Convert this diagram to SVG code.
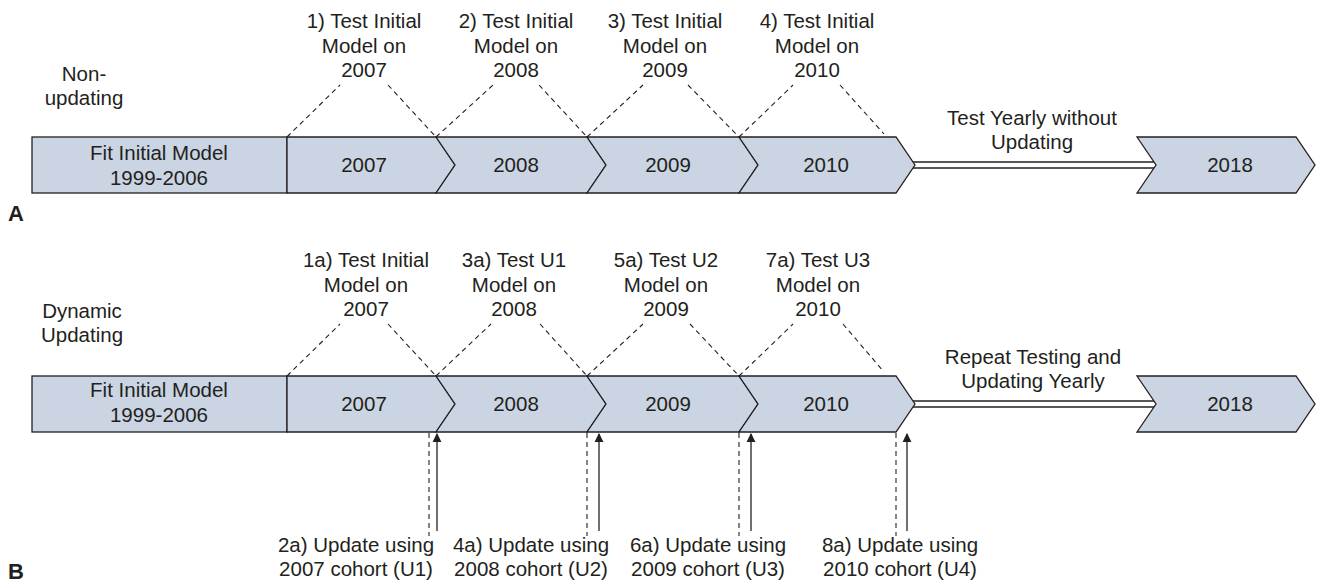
<svg xmlns="http://www.w3.org/2000/svg" width="1317" height="584" viewBox="0 0 1317 584">
<defs>
<style>
text{font-family:"Liberation Sans",Arial,sans-serif;font-size:20.5px;fill:#231f20}
.c{text-anchor:middle}
.lbl{font-weight:bold;font-size:22px}
.box{fill:#cad4e2;stroke:#231f20;stroke-width:1.3;stroke-linejoin:miter}
.dash{fill:none;stroke:#231f20;stroke-width:1.1;stroke-dasharray:5 4}
.arr{fill:none;stroke:#231f20;stroke-width:1.3}
.dblo{stroke:#231f20;stroke-width:7.5;fill:none}
.dbli{stroke:#ffffff;stroke-width:4.5;fill:none}
</style>
<marker id="ah" viewBox="0 0 10 10" refX="9" refY="5" markerWidth="9" markerHeight="11" markerUnits="userSpaceOnUse" orient="auto">
<path d="M0,0 L10,5 L0,10 Z" fill="#231f20"/>
</marker>
</defs>
<rect width="1317" height="584" fill="#ffffff"/>

<!-- Panel A -->
<g id="panelA">
<text x="84" y="81" class="c">Non-</text>
<text x="84" y="105" class="c">updating</text>
<text x="8" y="221" class="lbl">A</text>

<g id="a-labels">
<text x="364" y="28" class="c">1) Test Initial</text>
<text x="364" y="53" class="c">Model on</text>
<text x="364" y="77" class="c">2007</text>
<text x="516" y="28" class="c">2) Test Initial</text>
<text x="516" y="53" class="c">Model on</text>
<text x="516" y="77" class="c">2008</text>
<text x="665" y="28" class="c">3) Test Initial</text>
<text x="665" y="53" class="c">Model on</text>
<text x="665" y="77" class="c">2009</text>
<text x="817" y="28" class="c">4) Test Initial</text>
<text x="817" y="53" class="c">Model on</text>
<text x="817" y="77" class="c">2010</text>
<text x="1032" y="125" class="c">Test Yearly without</text>
<text x="1032" y="149" class="c">Updating</text>
</g>

<g id="a-connectors">
<path class="dash" d="M287,137 L340,85 M388,85 L436,137 M436,137 L493,85 M539,85 L587,137 M587,137 L643,85 M688,85 L739,137 M739,137 L793,85 M840,85 L884,134"/>
<path class="dblo" d="M913,165 L1158,165"/>
<path class="dbli" d="M911,165 L1160,165"/>
</g>

<g id="a-fit"><rect class="box" x="32" y="137" width="255" height="56"/>
<text x="159" y="160" class="c">Fit Initial Model</text><text x="159" y="185" class="c">1999-2006</text></g>
<g id="a-2007"><polygon class="box" points="287,137 436,137 455,165 436,193 287,193"/><text x="364" y="172" class="c">2007</text></g>
<g id="a-2008"><polygon class="box" points="436,137 587,137 606,165 587,193 436,193 455,165"/><text x="516" y="172" class="c">2008</text></g>
<g id="a-2009"><polygon class="box" points="587,137 739,137 758,165 739,193 587,193 606,165"/><text x="668" y="172" class="c">2009</text></g>
<g id="a-2010"><polygon class="box" points="739,137 896,137 915,165 896,193 739,193 758,165"/><text x="826" y="172" class="c">2010</text></g>
<g id="a-2018"><polygon class="box" points="1137,137 1296,137 1315,165 1296,193 1137,193 1156,165"/><text x="1230" y="172" class="c">2018</text></g>
</g>

<!-- Panel B -->
<g id="panelB">
<text x="82" y="318" class="c">Dynamic</text>
<text x="82" y="342" class="c">Updating</text>
<text x="8" y="579" class="lbl">B</text>

<g id="b-labels">
<text x="366" y="267" class="c">1a) Test Initial</text>
<text x="366" y="292" class="c">Model on</text>
<text x="366" y="316" class="c">2007</text>
<text x="514" y="267" class="c">3a) Test U1</text>
<text x="514" y="292" class="c">Model on</text>
<text x="514" y="316" class="c">2008</text>
<text x="666" y="267" class="c">5a) Test U2</text>
<text x="666" y="292" class="c">Model on</text>
<text x="666" y="316" class="c">2009</text>
<text x="818" y="267" class="c">7a) Test U3</text>
<text x="818" y="292" class="c">Model on</text>
<text x="818" y="316" class="c">2010</text>
<text x="1033" y="364" class="c">Repeat Testing and</text>
<text x="1033" y="388" class="c">Updating Yearly</text>
<text x="356" y="552" class="c">2a) Update using</text>
<text x="356" y="576" class="c">2007 cohort (U1)</text>
<text x="531" y="552" class="c">4a) Update using</text>
<text x="531" y="576" class="c">2008 cohort (U2)</text>
<text x="708" y="552" class="c">6a) Update using</text>
<text x="708" y="576" class="c">2009 cohort (U3)</text>
<text x="900" y="552" class="c">8a) Update using</text>
<text x="900" y="576" class="c">2010 cohort (U4)</text>
</g>

<g id="b-connectors">
<path class="dash" d="M287,376 L340,324 M388,324 L436,376 M436,376 L491,324 M540,324 L587,376 M587,376 L643,324 M690,324 L739,376 M739,376 L793,324 M843,324 L884,372"/>
<path class="dash" d="M429,433 L429,536 M587,433 L587,536 M739,433 L739,536 M896,433 L896,536"/>
<path class="arr" marker-end="url(#ah)" d="M437,531 L437,434"/>
<path class="arr" marker-end="url(#ah)" d="M599,531 L599,434"/>
<path class="arr" marker-end="url(#ah)" d="M751,531 L751,434"/>
<path class="arr" marker-end="url(#ah)" d="M907,531 L907,434"/>
<path class="dblo" d="M913,404 L1158,404"/>
<path class="dbli" d="M911,404 L1160,404"/>
</g>

<g id="b-fit"><rect class="box" x="32" y="376" width="255" height="56"/>
<text x="159" y="397" class="c">Fit Initial Model</text><text x="159" y="422" class="c">1999-2006</text></g>
<g id="b-2007"><polygon class="box" points="287,376 436,376 455,404 436,432 287,432"/><text x="364" y="411" class="c">2007</text></g>
<g id="b-2008"><polygon class="box" points="436,376 587,376 606,404 587,432 436,432 455,404"/><text x="516" y="411" class="c">2008</text></g>
<g id="b-2009"><polygon class="box" points="587,376 739,376 758,404 739,432 587,432 606,404"/><text x="668" y="411" class="c">2009</text></g>
<g id="b-2010"><polygon class="box" points="739,376 896,376 915,404 896,432 739,432 758,404"/><text x="826" y="411" class="c">2010</text></g>
<g id="b-2018"><polygon class="box" points="1137,376 1296,376 1315,404 1296,432 1137,432 1156,404"/><text x="1230" y="411" class="c">2018</text></g>
</g>
</svg>
